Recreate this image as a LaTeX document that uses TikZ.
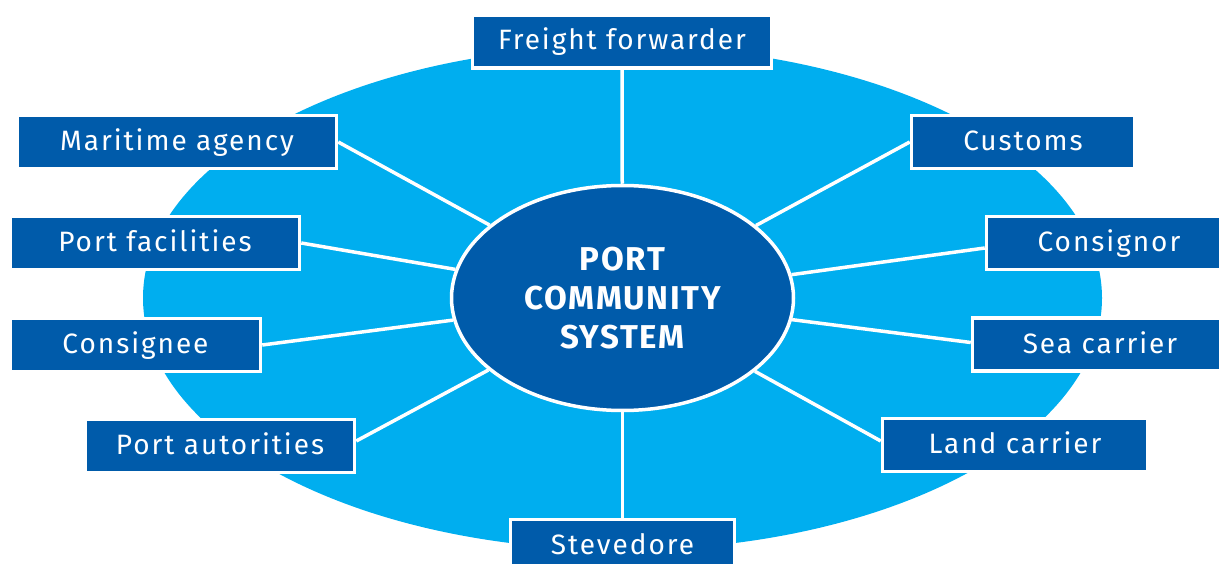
\documentclass[tikz,border=0pt]{standalone}
\usepackage{fontspec}
\setmainfont{Fira Sans}
\newfontfamily\lblfont[LetterSpace=7]{Fira Sans}
\newfontfamily\pcsfont[LetterSpace=5]{Fira Sans}
\usetikzlibrary{shapes.geometric,backgrounds}
\definecolor{darkblue}{RGB}{0,91,170}
\definecolor{lightblue}{RGB}{0,174,239}
\begin{document}
\begin{tikzpicture}[x=1pt,y=-1pt,
  box/.style={rectangle, fill=darkblue, draw=white, line width=3.5pt,
    minimum height=53pt, inner sep=0pt, text=white,
    font={\lblfont\fontsize{28}{32}\selectfont}, text height=23pt, text depth=6pt},
  hub/.style={ellipse, fill=darkblue, draw=white, line width=3.5pt,
    minimum width=342pt, minimum height=225pt, inner sep=0pt, text=white,
    align=center, font={\pcsfont\bfseries\fontsize{33}{39}\selectfont}},
  link/.style={draw=white, line width=3.5pt},
  field/.style={fill=lightblue}]
\useasboundingbox (0,0) rectangle (1219,564);
\clip (0,0) rectangle (1219,564);

\node[hub] (pcs) at (622.5,298) {PORT\\COMMUNITY\\SYSTEM};

\node[box, minimum width=299pt] (ff) at (622,41.5) {Freight forwarder};
\node[box, minimum width=319pt] (ma) at (177,142) {Maritime agency};
\node[box, minimum width=223pt] (cu) at (1023,142) {Customs};
\node[box, minimum width=289pt] (pf) at (155,243) {Port facilities};
\node[box, minimum width=245pt] (cr) at (1109,243) {Consignor};
\node[box, minimum width=250pt] (ce) at (135.5,345) {Consignee};
\node[box, minimum width=255pt] (sc) at (1100,344.5) {Sea carrier};
\node[box, minimum width=269pt] (pa) at (220,446) {Port autorities};
\node[box, minimum width=265pt] (lc) at (1015,445) {Land carrier};
\node[box, minimum width=224pt] (st) at (622.5,546) {Stevedore};

\begin{pgfonlayer}{background}
  \fill[field] (622.5,298) ellipse [x radius=479.5pt, y radius=252pt];
  \draw[link] (ff.south) -- (pcs);
  \draw[link] (ma.east) -- (pcs);
  \draw[link] (cu.west) -- (pcs);
  \draw[link] (pf.east) -- (pcs);
  \draw[link] ([yshift=-5pt]cr.west) -- (pcs);
  \draw[link] (ce.east) -- (pcs);
  \draw[link] ([yshift=2pt]sc.west) -- (pcs);
  \draw[link] ([yshift=5pt]pa.east) -- (pcs);
  \draw[link] ([yshift=4pt]lc.west) -- (pcs);
  \draw[link] (st.north) -- (pcs);
\end{pgfonlayer}
\end{tikzpicture}
\end{document}
